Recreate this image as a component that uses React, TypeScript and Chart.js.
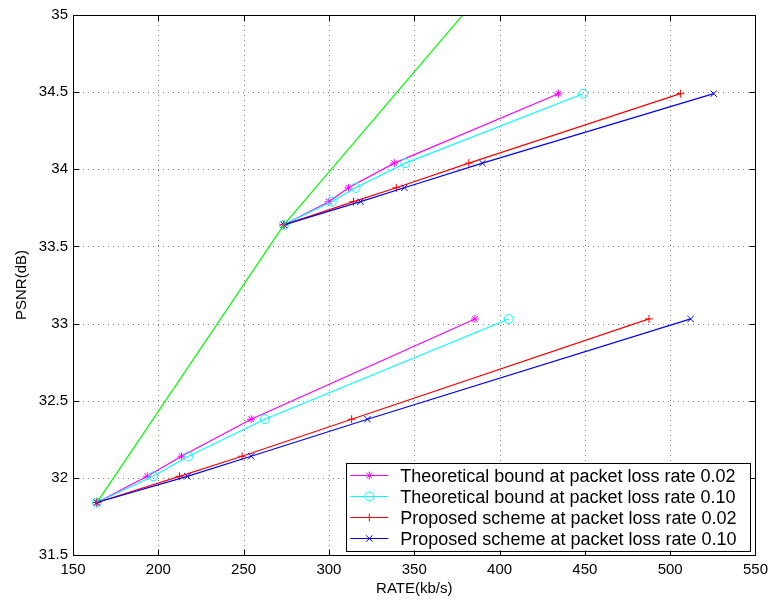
import React, { useEffect, useRef } from 'react';
import { Chart, registerables } from 'chart.js';

Chart.register(...registerables);

const FONT = "'Liberation Sans', Arial, Helvetica, sans-serif";

// ---- data ----
const xTickValues = [150, 200, 250, 300, 350, 400, 450, 500, 550];
const yTickValues = [31.5, 32, 32.5, 33, 33.5, 34, 34.5, 35];

const lowPsnr = [31.84, 32.01, 32.14, 32.38, 33.03];
const highPsnr = [33.64, 33.79, 33.88, 34.04, 34.49];

const boundLoss002LowRate = [164, 193.5, 213.6, 254.4, 385.6];
const boundLoss010LowRate = [164, 197, 217.6, 262.5, 405.4];
const schemeLoss002LowRate = [164, 212.4, 249.1, 313.3, 487.6];
const schemeLoss010LowRate = [164, 217, 254.4, 322.6, 512];

const boundLoss002HighRate = [273.6, 299.9, 311.5, 338.3, 434.5];
const boundLoss010HighRate = [273.6, 301.6, 315.6, 344.8, 449];
const schemeLoss002HighRate = [273.6, 314.4, 339.5, 382, 506];
const schemeLoss010HighRate = [273.6, 318.5, 344.2, 390, 525.5];

const envelopeRate = [164, 273.6, 417];
const envelopePsnr = [31.84, 33.64, 35.5];

const seriesLabels = [
  'Theoretical bound at packet loss rate 0.02',
  'Theoretical bound at packet loss rate 0.10',
  'Proposed scheme at packet loss rate 0.02',
  'Proposed scheme at packet loss rate 0.10',
];

const xTitle = 'RATE(kb/s)';
const yTitle = 'PSNR(dB)';

// ---- styles ----
const seriesDefs = [
  { label: seriesLabels[0], color: '#ff00ff', pointStyle: 'star', radius: 4, low: boundLoss002LowRate, high: boundLoss002HighRate },
  { label: seriesLabels[1], color: '#00ffff', pointStyle: 'circle', radius: 4.5, low: boundLoss010LowRate, high: boundLoss010HighRate },
  { label: seriesLabels[2], color: '#ff0000', pointStyle: 'cross', radius: 4, low: schemeLoss002LowRate, high: schemeLoss002HighRate },
  { label: seriesLabels[3], color: '#0000ff', pointStyle: 'crossRot', radius: 4.5, low: schemeLoss010LowRate, high: schemeLoss010HighRate },
];

const LINE_W = 1.2;

function toPoints(xs: number[], ys: number[]) {
  return xs.map((x, i) => ({ x, y: ys[i] }));
}

function drawMarker(ctx: CanvasRenderingContext2D, style: string, x: number, y: number, r: number, color: string) {
  ctx.save();
  ctx.strokeStyle = color;
  ctx.lineWidth = 1;
  ctx.beginPath();
  const d = r * Math.SQRT1_2;
  if (style === 'circle') {
    ctx.arc(x, y, r, 0, Math.PI * 2);
  }
  if (style === 'cross' || style === 'star') {
    ctx.moveTo(x - r, y);
    ctx.lineTo(x + r, y);
    ctx.moveTo(x, y - r);
    ctx.lineTo(x, y + r);
  }
  if (style === 'crossRot' || style === 'star') {
    ctx.moveTo(x - d, y - d);
    ctx.lineTo(x + d, y + d);
    ctx.moveTo(x - d, y + d);
    ctx.lineTo(x + d, y - d);
  }
  ctx.stroke();
  ctx.restore();
}

const matlabPlugin = {
  id: 'matlabLook',
  beforeDatasetsDraw(chart: any) {
    const { ctx, chartArea } = chart;
    const { left, right, top, bottom } = chartArea;
    const xs = chart.scales.x;
    const ys = chart.scales.y;
    ctx.save();
    ctx.strokeStyle = 'rgba(0,0,0,0.5)';
    ctx.lineWidth = 1;
    ctx.setLineDash([1, 4]);
    ctx.beginPath();
    xs.ticks.forEach((t: any) => {
      const px = Math.round(xs.getPixelForValue(t.value)) + 0.5;
      if (px > left + 2 && px < right - 2) {
        ctx.moveTo(px, top);
        ctx.lineTo(px, bottom);
      }
    });
    ys.ticks.forEach((t: any) => {
      const py = Math.round(ys.getPixelForValue(t.value)) + 0.5;
      if (py > top + 2 && py < bottom - 2) {
        ctx.moveTo(left, py);
        ctx.lineTo(right, py);
      }
    });
    ctx.stroke();
    ctx.restore();
  },
  afterDatasetsDraw(chart: any) {
    const { ctx, chartArea } = chart;
    const { left, right, top, bottom } = chartArea;
    const xs = chart.scales.x;
    const ys = chart.scales.y;
    const L = Math.round(left) + 0.5;
    const R = Math.round(right) + 0.5;
    const T = Math.round(top) + 0.5;
    const B = Math.round(bottom) + 0.5;
    const tick = 6;

    ctx.save();
    ctx.strokeStyle = '#000';
    ctx.lineWidth = 1;
    ctx.setLineDash([]);
    ctx.beginPath();
    xs.ticks.forEach((t: any) => {
      const px = Math.round(xs.getPixelForValue(t.value)) + 0.5;
      ctx.moveTo(px, B);
      ctx.lineTo(px, B - tick);
      ctx.moveTo(px, T);
      ctx.lineTo(px, T + tick);
    });
    ys.ticks.forEach((t: any) => {
      const py = Math.round(ys.getPixelForValue(t.value)) + 0.5;
      ctx.moveTo(L, py);
      ctx.lineTo(L + tick, py);
      ctx.moveTo(R, py);
      ctx.lineTo(R - tick, py);
    });
    ctx.stroke();
    ctx.strokeRect(L, T, R - L, B - T);

    // legend
    const font = `18px ${FONT}`;
    ctx.font = font;
    const rowH = 21;
    const textW = Math.max(...seriesDefs.map((s) => ctx.measureText(s.label).width));
    const boxRight = R - 5;
    const boxBottom = B - 5;
    const boxH = 88;
    const boxTop = boxBottom - boxH;
    const textX = boxRight - 14 - textW;
    const boxLeft = textX - 54;
    ctx.fillStyle = '#fff';
    ctx.fillRect(boxLeft, boxTop, boxRight - boxLeft, boxH);
    ctx.strokeStyle = '#000';
    ctx.strokeRect(Math.round(boxLeft) + 0.5, Math.round(boxTop) + 0.5, Math.round(boxRight - boxLeft), boxH);
    seriesDefs.forEach((s, i) => {
      const cy = Math.round(boxTop + 12 + i * rowH) + 0.5;
      ctx.strokeStyle = s.color;
      ctx.lineWidth = LINE_W;
      ctx.beginPath();
      ctx.moveTo(boxLeft + 4, cy);
      ctx.lineTo(boxLeft + 42, cy);
      ctx.stroke();
      drawMarker(ctx, s.pointStyle, boxLeft + 23, cy, s.radius, s.color);
      ctx.fillStyle = '#000';
      ctx.font = font;
      ctx.textAlign = 'left';
      ctx.textBaseline = 'alphabetic';
      ctx.fillText(s.label, textX, cy + 6.5);
    });

    // axis titles
    ctx.fillStyle = '#000';
    ctx.font = `15px ${FONT}`;
    ctx.textAlign = 'center';
    ctx.textBaseline = 'middle';
    ctx.fillText(xTitle, (left + right) / 2, 589);
    ctx.translate(22, (top + bottom) / 2);
    ctx.rotate(-Math.PI / 2);
    ctx.fillText(yTitle, 0, 0);
    ctx.restore();
  },
};

export default function App() {
  const canvasRef = useRef<HTMLCanvasElement | null>(null);

  useEffect(() => {
    const canvas = canvasRef.current;
    if (!canvas) return;

    const datasets: any[] = [];
    datasets.push({
      label: 'envelope',
      data: toPoints(envelopeRate, envelopePsnr),
      borderColor: '#00ff00',
      borderWidth: LINE_W,
      pointRadius: 0,
      pointHoverRadius: 0,
      showLine: true,
      fill: false,
      tension: 0,
    });
    [...seriesDefs].reverse().forEach((s) => {
      [
        toPoints(s.high, highPsnr),
        toPoints(s.low, lowPsnr),
      ].forEach((pts) => {
        datasets.push({
          label: s.label,
          data: pts,
          borderColor: s.color,
          borderWidth: LINE_W,
          pointStyle: s.pointStyle,
          pointRadius: s.radius,
          pointHoverRadius: s.radius,
          pointBorderColor: s.color,
          pointBackgroundColor: 'rgba(0,0,0,0)',
          pointBorderWidth: 1,
          showLine: true,
          fill: false,
          tension: 0,
        });
      });
    });

    const chart = new Chart(canvas, {
      type: 'scatter',
      data: { datasets },
      options: {
        responsive: false,
        animation: false,
        events: [],
        devicePixelRatio: 1,
        layout: { padding: { top: 15, right: 15, left: 0, bottom: 0 } },
        plugins: {
          legend: { display: false },
          tooltip: { enabled: false },
        },
        scales: {
          x: {
            type: 'linear',
            min: 150,
            max: 550,
            afterBuildTicks: (s: any) => {
              s.ticks = xTickValues.map((v) => ({ value: v }));
            },
            afterFit: (s: any) => {
              s.height = 47;
            },
            grid: { display: false, drawTicks: false },
            border: { display: false },
            ticks: {
              padding: 6,
              color: '#000',
              maxRotation: 0,
              autoSkip: false,
              font: { family: FONT, size: 15 },
              callback: (v: any) => String(v),
            },
          },
          y: {
            type: 'linear',
            min: 31.5,
            max: 35,
            afterBuildTicks: (s: any) => {
              s.ticks = yTickValues.map((v) => ({ value: v }));
            },
            afterFit: (s: any) => {
              s.width = 73;
            },
            grid: { display: false, drawTicks: false },
            border: { display: false },
            ticks: {
              padding: 5,
              color: '#000',
              autoSkip: false,
              font: { family: FONT, size: 15 },
              callback: (v: any) => String(v),
            },
          },
        },
      } as any,
      plugins: [matlabPlugin],
    });

    return () => {
      chart.destroy();
    };
  }, []);

  return (
    <div style={{ position: 'fixed', left: 0, top: 0, width: 774, height: 602, background: '#fff' }}>
      <canvas ref={canvasRef} width={774} height={602} style={{ display: 'block', width: 774, height: 602 }} />
    </div>
  );
}
